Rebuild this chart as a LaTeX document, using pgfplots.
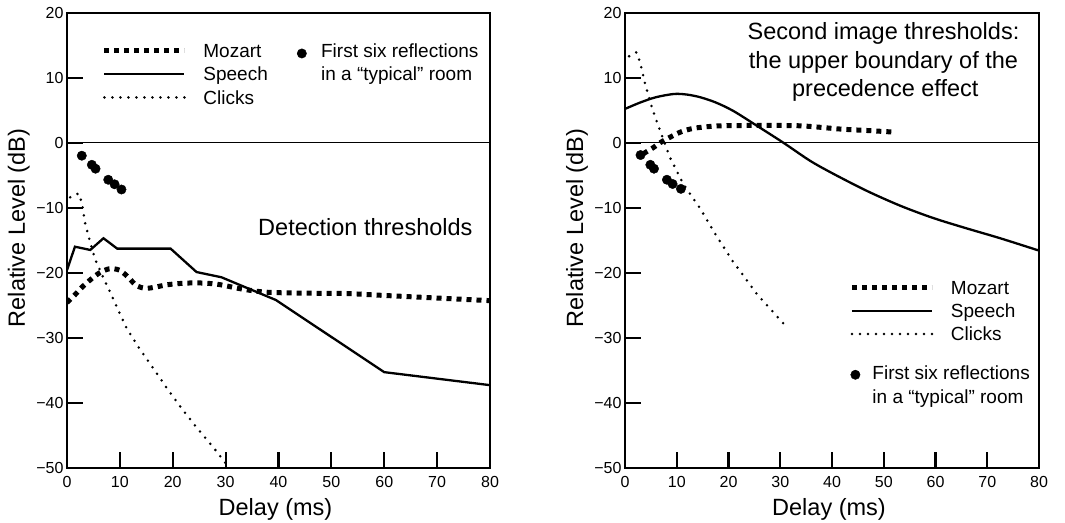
\documentclass[border=0pt]{standalone}
\usepackage{pgfplots}
\pgfplotsset{compat=1.18}
\usepackage{fontspec}
\setmainfont{Liberation Sans}
\begin{document}
\begin{tikzpicture}
\tikzset{
  mozart/.style={black, line width=5pt, dash pattern=on 5pt off 5pt},
  speech/.style={black, solid, line width=2.3pt},
  clicks/.style={black, line width=2.8pt, line cap=round, dash pattern=on 0pt off 8pt},
}
\pgfplotsset{
  panel/.style={
    scale only axis, height=455pt,
    xmin=0, xmax=80, ymin=-50, ymax=20,
    xtick={0,10,...,80}, ytick={-50,-40,...,20},
    yticklabels={−50,−40,−30,−20,−10,0,10,20},
    tick align=inside, xtick pos=bottom, ytick pos=left,
    major tick length=16pt,
    tick style={solid, black, line width=2.2pt, line cap=butt},
    axis line style={solid, line width=2.2pt},
    tick label style={font=\fontsize{16}{19}\selectfont},
    xticklabel style={yshift=-5pt},
    label style={font=\fontsize{23.5}{28}\selectfont},
    xlabel={Delay (ms)}, ylabel={Relative Level (dB)},
    xlabel style={at={(axis description cs:0.5,0)}, anchor=base, yshift=-47.3pt, xshift=-3pt},
    /pgf/number format/assume math mode=true,
    legend cell align=left,
    legend style={draw=none, fill=none, inner sep=0pt,
      font=\fontsize{19}{23.3}\selectfont,
      nodes={inner sep=0pt, text height=15pt, text depth=1.4pt},
      row sep=6.9pt, column sep=16.5pt},
  },
}

% ---------------- Left panel ----------------
\begin{axis}[panel, name=L, at={(67pt,54.3pt)}, anchor=south west, width=423pt,
  ylabel style={at={(axis description cs:-0.0993,0.527)}, anchor=base},
  legend columns=2,
  legend style={at={(axis cs:6.56,15.42)}, anchor=north west,
    /tikz/every even column/.append style={column sep=35.8pt}},
]
\addplot[forget plot, solid, black, line width=1pt] coordinates {(0,0) (80,0)};
\addplot[forget plot, mozart, smooth] coordinates {
(0,-24.6) (1.5,-23.4) (3,-22.1) (4.7,-20.9) (6.2,-20.0) (8,-19.4) (9.9,-19.6)
(11.6,-20.7) (13,-21.9) (14.7,-22.4) (16.5,-22.25) (19,-21.85) (22.5,-21.6)
(26,-21.6) (29,-21.85) (33,-22.5) (37.7,-23.0) (45,-23.15) (52.6,-23.2)
(60,-23.5) (70,-23.9) (80,-24.3)};
\addplot[forget plot, speech] coordinates {
(0,-19.6) (1.5,-16.0) (4.4,-16.5) (6.9,-14.7) (9.5,-16.3) (19.6,-16.3)
(24.5,-19.9) (29.2,-20.7) (39.5,-24.2) (60,-35.3) (80,-37.3)};
\addplot[forget plot, clicks] coordinates {
(0.6,-8.4) (2.2,-7.8) (2.8,-9.2) (3.4,-12.3) (4.3,-15.1) (5.3,-17.9) (6.6,-20.3)
(8.1,-22.9) (9.5,-25.4) (11.3,-28.6) (13.8,-31.8) (16.4,-34.8) (19,-37.9)
(21.7,-40.9) (24.5,-43.8) (27.7,-46.9) (30.2,-49.5)};
\addplot[forget plot, solid, only marks, mark=*, mark size=4.7pt, black] coordinates {
(2.8,-2.0) (4.7,-3.4) (5.4,-4.0) (7.8,-5.7) (9,-6.4) (10.3,-7.2)};

\addlegendimage{legend image code/.code={\draw[mozart] (0pt,0pt) -- (80pt,0pt);}}
\addlegendentry{Mozart}
\addlegendimage{legend image code/.code={\path[draw=none, fill=none] (0pt,0pt) -- (1pt,0pt); \fill[black, overlay] (-1.8pt,-2.6pt) circle (4.7pt);}}
\addlegendentry{\begin{tabular}[t]{@{}l@{}}First six reflections\\in a “typical” room\end{tabular}}
\addlegendimage{legend image code/.code={\draw[speech] (0pt,0pt) -- (80pt,0pt);}}
\addlegendentry{Speech}
\addlegendimage{empty legend}
\addlegendentry{}
\addlegendimage{legend image code/.code={\draw[clicks] (0pt,0pt) -- (80pt,0pt);}}
\addlegendentry{Clicks}
\addlegendimage{empty legend}
\addlegendentry{}

\node[anchor=base west, font=\fontsize{23.5}{28}\selectfont] at (axis cs:35.5,-14.2) {Detection thresholds};
\end{axis}
\foreach \k in {1,...,7} {\draw[solid, black, line width=2.2pt] ([xshift=\k*52.875pt]L.south west) -- ++(0pt,16pt);}
\foreach \k in {1,...,6} {\draw[solid, black, line width=2.2pt] ([yshift=\k*65pt]L.south west) -- ++(16pt,0pt);}

% ---------------- Right panel ----------------
\begin{axis}[panel, name=R, at={(625pt,54.3pt)}, anchor=south west, width=414pt,
  ylabel style={at={(axis description cs:-0.1014,0.527)}, anchor=base},
  legend style={at={(axis cs:43.34,-20.98)}, anchor=north west},
]
\addplot[forget plot, solid, black, line width=1pt] coordinates {(0,0) (80,0)};
\addplot[forget plot, mozart, smooth] coordinates {
(3.5,-1.7) (5.2,-0.9) (6.9,0.05) (8.6,0.8) (10.6,1.6) (12.6,2.1) (14.5,2.35)
(18.4,2.6) (25,2.65) (33.8,2.6) (41.6,2.1) (47.4,1.85) (51.5,1.65)};
\addplot[forget plot, speech, smooth] coordinates {
(0,5.2) (3,6.2) (6,7.0) (9.5,7.5) (12,7.4) (14.5,7.0) (17.5,6.2) (20.9,4.9)
(25.5,2.6) (30.6,0) (35.8,-2.8) (40.3,-4.8) (46.7,-7.4) (53.2,-9.7)
(59.6,-11.6) (66.1,-13.2) (72.5,-14.7) (80,-16.6)};
\addplot[forget plot, clicks] coordinates {
(0.8,13.3) (2.2,13.9) (2.9,12.4) (3.9,9.0) (5.2,5.4) (6.8,1.8) (8.7,-2.3)
(11.3,-6.4) (14.5,-10.1) (17.5,-14.1) (20.7,-18.1) (25.5,-23.3) (30.6,-27.8)};
\addplot[forget plot, solid, only marks, mark=*, mark size=4.7pt, black] coordinates {
(3.0,-1.9) (4.9,-3.4) (5.6,-4.0) (8.1,-5.7) (9.2,-6.35) (10.8,-7.1)};

\addlegendimage{legend image code/.code={\draw[mozart] (0pt,0pt) -- (80pt,0pt);}}
\addlegendentry{Mozart}
\addlegendimage{legend image code/.code={\draw[speech] (0pt,0pt) -- (80pt,0pt);}}
\addlegendentry{Speech}
\addlegendimage{legend image code/.code={\draw[clicks] (0pt,0pt) -- (80pt,0pt);}}
\addlegendentry{Clicks}
\addlegendimage{legend image code/.code={\path[draw=none, fill=none] (0pt,0pt) -- (1pt,0pt); \fill[black, overlay] (3.4pt,-17.4pt) circle (4.7pt);}}
\addlegendentry{\makebox[0pt][l]{\hspace*{-79pt}\raisebox{-15.7pt}{\begin{tabular}[t]{@{}l@{}}First six reflections\\in a “typical” room\end{tabular}}}}

\node[anchor=base, font=\fontsize{23.5}{28}\selectfont] at (axis cs:49.95,15.8) {Second image thresholds:};
\node[anchor=base, font=\fontsize{23.5}{28}\selectfont] at (axis cs:49.95,11.45) {the upper boundary of the};
\node[anchor=base, font=\fontsize{23.5}{28}\selectfont] at (axis cs:50.3,7.08) {precedence effect};
\end{axis}
\foreach \k in {1,...,7} {\draw[solid, black, line width=2.2pt] ([xshift=\k*51.75pt]R.south west) -- ++(0pt,16pt);}
\foreach \k in {1,...,6} {\draw[solid, black, line width=2.2pt] ([yshift=\k*65pt]R.south west) -- ++(16pt,0pt);}
\pgfresetboundingbox
\useasboundingbox (0pt,0pt) rectangle (1065pt,522pt);
\end{tikzpicture}
\end{document}
